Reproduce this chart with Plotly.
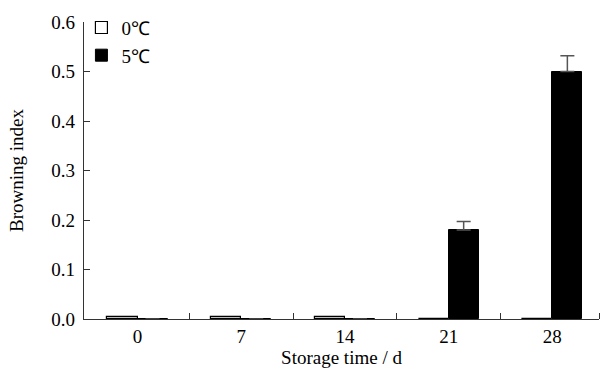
import plotly.graph_objects as go

days = ["0", "7", "14", "21", "28"]
pos = [0, 1, 2, 3, 4]
bi_0c = [0.005, 0.005, 0.005, 0.0, 0.0]
bi_5c = [0.0, 0.0, 0.0, 0.18, 0.50]
err_5c = [0.0, 0.0, 0.0, 0.017, 0.032]
yticks = [0.0, 0.1, 0.2, 0.3, 0.4, 0.5, 0.6]

FONT = "Liberation Serif, Times New Roman, serif"
FS = 19

fig = go.Figure()
fig.add_trace(go.Bar(
    x=pos, y=bi_0c, name="0℃", width=0.29, offset=-0.29,
    marker=dict(color="white", line=dict(color="black", width=1.2)),
))
fig.add_trace(go.Bar(
    x=pos, y=bi_5c, name="5℃", width=0.29, offset=0,
    marker=dict(color="black", line=dict(color="black", width=1)),
    error_y=dict(type="data", array=err_5c, arrayminus=[0]*5, symmetric=False,
                 color="#555", thickness=1.5, width=7),
))

fig.update_layout(
    width=601, height=369,
    margin=dict(l=84, r=2, t=22, b=50, autoexpand=False),
    plot_bgcolor="white", paper_bgcolor="white",
    font=dict(family=FONT, size=FS, color="black"),
    showlegend=True,
    legend=dict(x=-0.005, y=1.045, xanchor="left", yanchor="top",
                bgcolor="rgba(0,0,0,0)", font=dict(size=FS),
                itemwidth=30, tracegroupgap=0),
    bargap=0,
)
fig.update_xaxes(
    range=[-0.516, 4.45], tickmode="array", tickvals=pos, ticktext=days,
    ticks="", showline=True, linecolor="#333", linewidth=1.2,
    showgrid=False, zeroline=False, automargin=False,
    minor=dict(tickmode="array", tickvals=[0.5, 1.5, 2.5, 3.5, 4.45],
               ticks="inside", ticklen=6, tickcolor="#333", tickwidth=1.2, showgrid=False),
    title=dict(text="Storage time / d", standoff=0, font=dict(size=FS)),
    tickfont=dict(size=FS),
)
fig.update_yaxes(
    range=[0, 0.6], tickmode="array", tickvals=yticks, tickformat=".1f",
    ticks="inside", ticklen=6, tickcolor="#333", tickwidth=1.2,
    showline=True, linecolor="#333", linewidth=1.2,
    showgrid=False, zeroline=False, automargin=False,
    ticklabelstandoff=4,
    title=dict(text="Browning index", standoff=22, font=dict(size=FS)),
    tickfont=dict(size=FS),
)

fig.write_html("out.html", config={"displayModeBar": False},
               post_script="document.body.style.margin='0';")
